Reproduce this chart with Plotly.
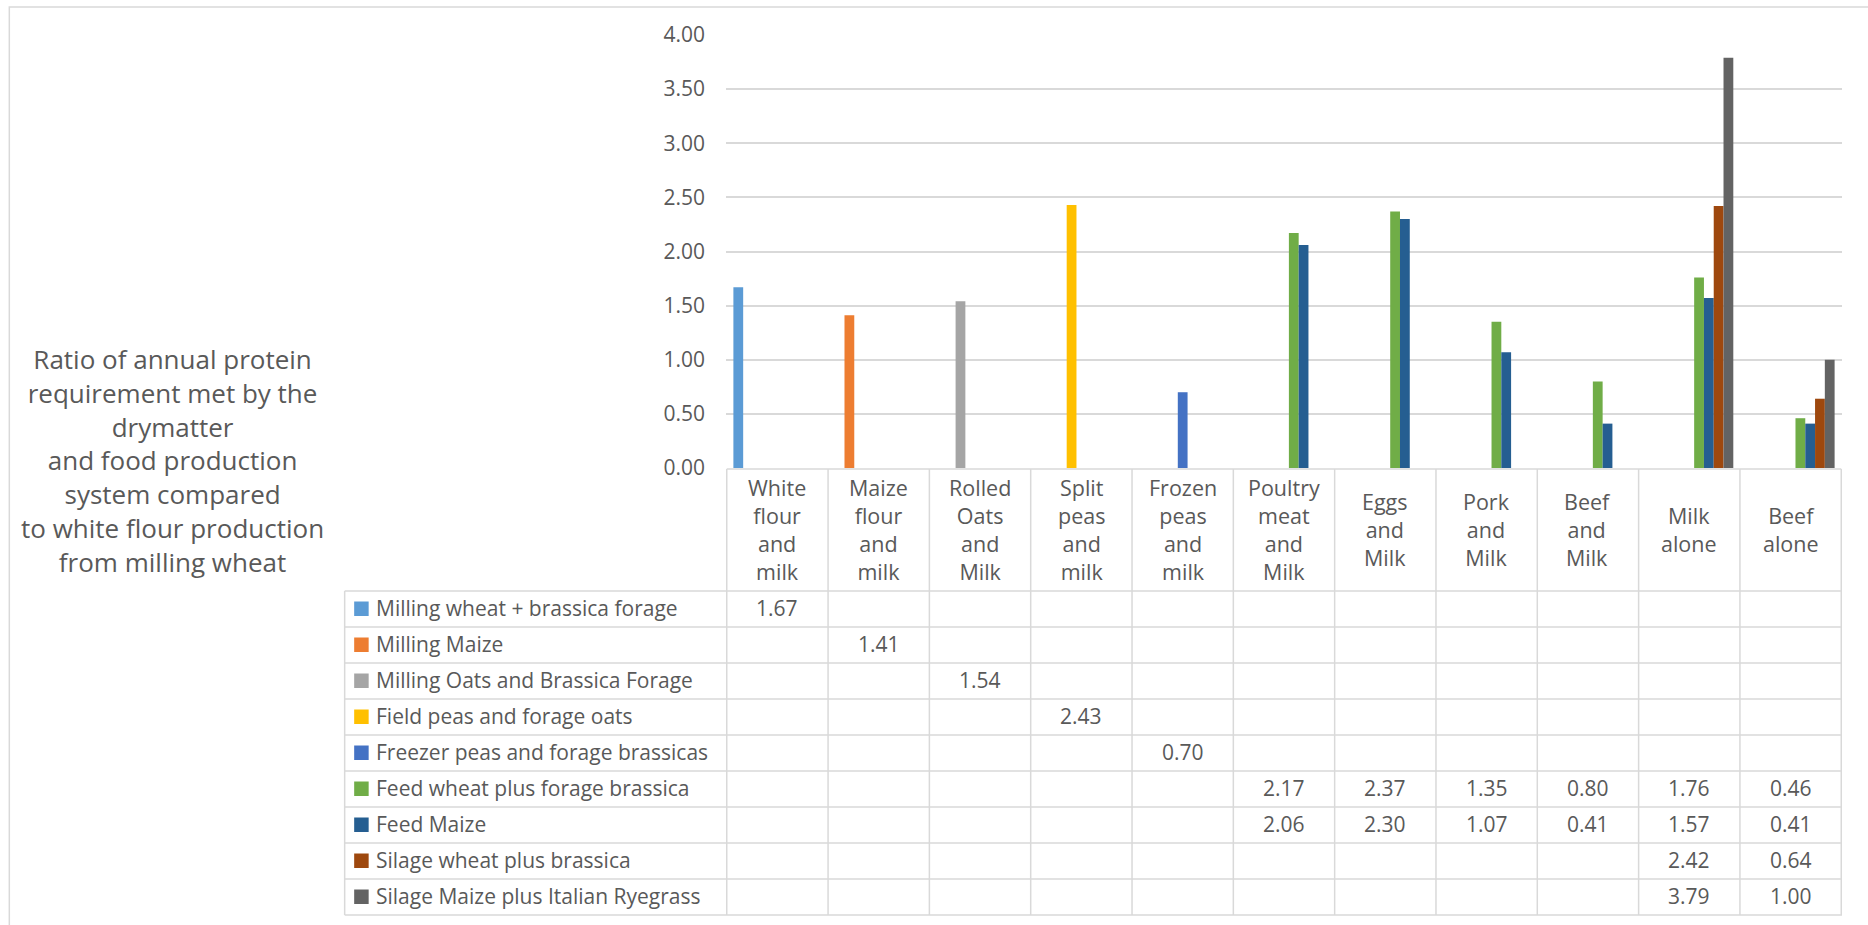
import plotly.graph_objects as go

# ---------------- data ----------------
categories = ["White flour and milk", "Maize flour and milk", "Rolled Oats and Milk",
              "Split peas and milk", "Frozen peas and milk", "Poultry meat and Milk",
              "Eggs and Milk", "Pork and Milk", "Beef and Milk", "Milk alone", "Beef alone"]

series_names = ["Milling wheat + brassica forage", "Milling Maize",
                "Milling Oats and Brassica Forage", "Field peas and forage oats",
                "Freezer peas and forage brassicas", "Feed wheat plus forage brassica",
                "Feed Maize", "Silage wheat plus brassica",
                "Silage Maize plus Italian Ryegrass"]

N = None
milling_wheat = [1.67, N, N, N, N, N, N, N, N, N, N]
milling_maize = [N, 1.41, N, N, N, N, N, N, N, N, N]
milling_oats = [N, N, 1.54, N, N, N, N, N, N, N, N]
field_peas = [N, N, N, 2.43, N, N, N, N, N, N, N]
freezer_peas = [N, N, N, N, 0.70, N, N, N, N, N, N]
feed_wheat = [N, N, N, N, N, 2.17, 2.37, 1.35, 0.80, 1.76, 0.46]
feed_maize = [N, N, N, N, N, 2.06, 2.30, 1.07, 0.41, 1.57, 0.41]
silage_wheat = [N, N, N, N, N, N, N, N, N, 2.42, 0.64]
silage_maize = [N, N, N, N, N, N, N, N, N, 3.79, 1.00]

series_values = [milling_wheat, milling_maize, milling_oats, field_peas, freezer_peas,
                 feed_wheat, feed_maize, silage_wheat, silage_maize]

colors = ["#5B9BD5", "#ED7D31", "#A5A5A5", "#FFC000", "#4472C4",
          "#70AD47", "#255E91", "#9E480E", "#636363"]

y_ticks = [0.0, 0.5, 1.0, 1.5, 2.0, 2.5, 3.0, 3.5, 4.0]
y_title = ("Ratio of annual protein<br>requirement met by the<br>drymatter<br>"
           "and food production<br>system compared<br>to white flour production<br>"
           "from milling wheat")

# ---------------- layout geometry (pixels) ----------------
W, H = 1868, 925
L, R, T, B = 725.5, 26, 35, 457
PW = W - L - R
PH = H - T - B
FONT = "Open Sans"
TXT = "#595959"
GRID = "#d9d9d9"


def X(px):
    return (px - L) / PW


def Y(py):
    return (H - B - py) / PH


header_top = 469
header_bot = 591
row_h = 36
table_left = 344
n_rows = len(series_names)

fig = go.Figure()
for name, vals, col in zip(series_names, series_values, colors):
    fig.add_trace(go.Bar(x=categories, y=vals, name=name,
                         marker=dict(color=col, line=dict(width=0))))

shapes = []
annotations = []

# chart border
shapes.append(dict(type="rect", xref="paper", yref="paper",
                   x0=X(8.5), x1=X(1880), y0=Y(7), y1=Y(940),
                   line=dict(color=GRID, width=1.5), layer="below"))

# table horizontal lines
shapes.append(dict(type="line", xref="x", yref="paper", x0=-0.5, x1=len(categories) - 0.5,
                   y0=Y(header_top), y1=Y(header_top), line=dict(color=GRID, width=1.5)))
for r in range(n_rows + 1):
    yy = header_bot + r * row_h
    shapes.append(dict(type="line", xref="paper", yref="paper", x0=X(table_left),
                       x1=1, y0=Y(yy), y1=Y(yy), line=dict(color=GRID, width=1.5)))
# table vertical lines
table_bottom = header_bot + n_rows * row_h
shapes.append(dict(type="line", xref="paper", yref="paper", x0=X(table_left), x1=X(table_left),
                   y0=Y(header_bot), y1=Y(table_bottom), line=dict(color=GRID, width=1.5)))
for k in range(len(categories) + 1):
    shapes.append(dict(type="line", xref="x", yref="paper", x0=k - 0.5, x1=k - 0.5,
                       y0=Y(header_top), y1=Y(table_bottom), line=dict(color=GRID, width=1.5)))

# header texts
for c in categories:
    annotations.append(dict(xref="x", yref="paper", x=c, y=Y((header_top + header_bot) / 2 - 1),
                            text=c.replace(" ", "<br>"), showarrow=False,
                            xanchor="center", yanchor="middle", align="center",
                            font=dict(family=FONT, size=21.5, color=TXT)))

# rows
for r, (name, vals, col) in enumerate(zip(series_names, series_values, colors)):
    yc = header_bot + r * row_h + row_h / 2
    shapes.append(dict(type="rect", xref="paper", yref="paper",
                       x0=X(353.5), x1=X(368), y0=Y(yc - 7.5), y1=Y(yc + 7),
                       fillcolor=col, line=dict(width=0)))
    annotations.append(dict(xref="paper", yref="paper", x=X(373), y=Y(yc - 1),
                            text=name, showarrow=False, xanchor="left", yanchor="middle",
                            font=dict(family=FONT, size=21, color=TXT)))
    for c, v in zip(categories, vals):
        if v is not None:
            annotations.append(dict(xref="x", yref="paper", x=c, y=Y(yc - 1),
                                    text=f"{v:.2f}", showarrow=False,
                                    xanchor="center", yanchor="middle",
                                    font=dict(family=FONT, size=21, color=TXT)))

# y-axis title
annotations.append(dict(xref="paper", yref="paper", x=X(172), y=Y(460),
                        text=y_title, showarrow=False, xanchor="center", yanchor="middle",
                        align="center", font=dict(family=FONT, size=26, color=TXT)))

fig.update_layout(
    width=W, height=H,
    margin=dict(l=L, r=R, t=T, b=B, pad=0),
    paper_bgcolor="white", plot_bgcolor="white",
    barmode="group", bargap=0.131, bargroupgap=0,
    showlegend=False,
    font=dict(family=FONT, color=TXT),
    xaxis=dict(showticklabels=False, showgrid=False, zeroline=False, showline=False,
               ticks="", fixedrange=True),
    yaxis=dict(range=[0, 4], tickvals=y_ticks, tickformat=".2f",
               showgrid=True, gridcolor=GRID, gridwidth=1.5,
               zeroline=False, showline=False, ticks="",
               ticklabelstandoff=20,
               tickfont=dict(family=FONT, size=21, color=TXT)),
    shapes=shapes,
    annotations=annotations,
)

fig.write_html("out.html")
